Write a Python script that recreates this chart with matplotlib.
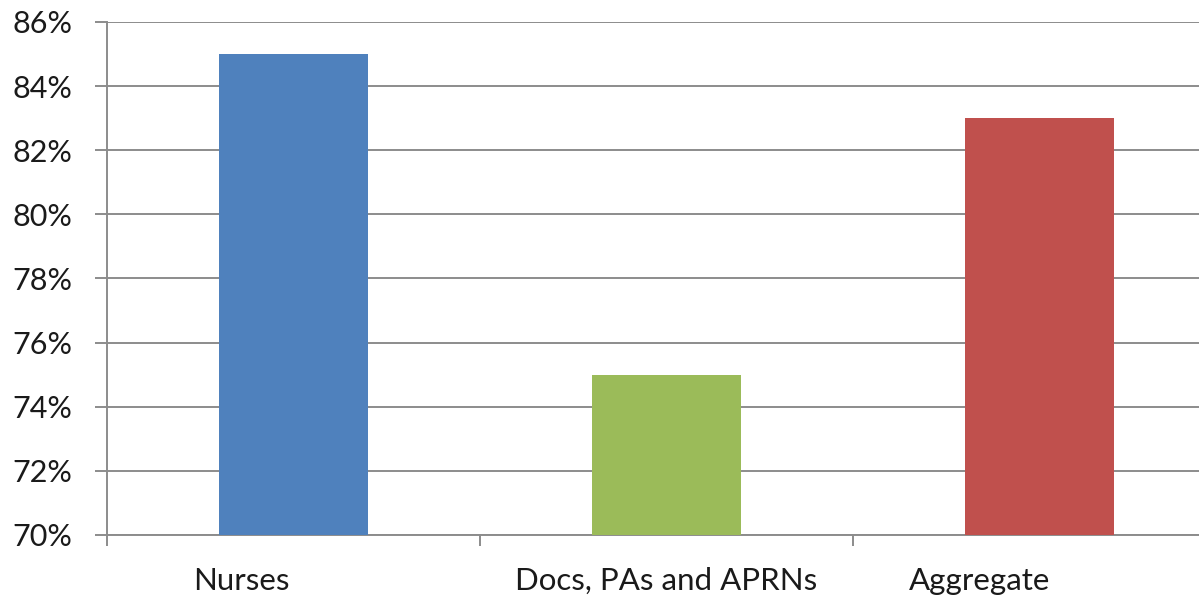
import numpy as np
import matplotlib.pyplot as plt
from matplotlib.ticker import FuncFormatter, FixedLocator

categorias = ['Nurses', 'Docs, PAs and APRNs', 'Aggregate']
valores = [0.85, 0.75, 0.83]
cores = ['#4F81BD', '#9BBB59', '#C0504D']
# deslocamento dos rotulos no eixo x (como no original)
desloc_rotulo = [-0.14, 0.0, -0.16]

plt.rcParams['font.family'] = ['Lato', 'DejaVu Sans']

fig = plt.figure(figsize=(11.99, 5.98), dpi=100)
ax = fig.add_axes([107/1199, 1 - 535/598, 1119/1199, 513/598])

x = np.arange(len(categorias))
ax.bar(x, valores, width=0.4, color=cores, zorder=3)

ax.set_xlim(-0.5, len(categorias) - 0.5)
ax.set_ylim(0.70, 0.86)
ax.set_yticks(np.arange(0.70, 0.861, 0.02))
ax.yaxis.set_major_formatter(FuncFormatter(lambda v, p: f'{v*100:.0f}%'))
ax.grid(axis='y', color='#8c8c8c', linewidth=1.4, zorder=0)

# ticks entre categorias, rotulos deslocados
ax.xaxis.set_minor_locator(FixedLocator(np.arange(-0.5, len(categorias), 1.0)))
ax.set_xticks(x + np.array(desloc_rotulo))
ax.set_xticklabels(categorias)
ax.tick_params(axis='x', which='major', length=0, pad=23, labelsize=22.5, labelcolor='#1a1a1a')
ax.tick_params(axis='x', which='minor', length=8, width=1.4, color='#8c8c8c')
ax.tick_params(axis='y', length=9, width=1.4, color='#8c8c8c', pad=16, labelsize=22, labelcolor='#1a1a1a')

for s in ['top', 'right']:
    ax.spines[s].set_visible(False)
for s in ['left', 'bottom']:
    ax.spines[s].set_color('#8c8c8c')
    ax.spines[s].set_linewidth(1.4)

plt.savefig('out.png', dpi=100)
